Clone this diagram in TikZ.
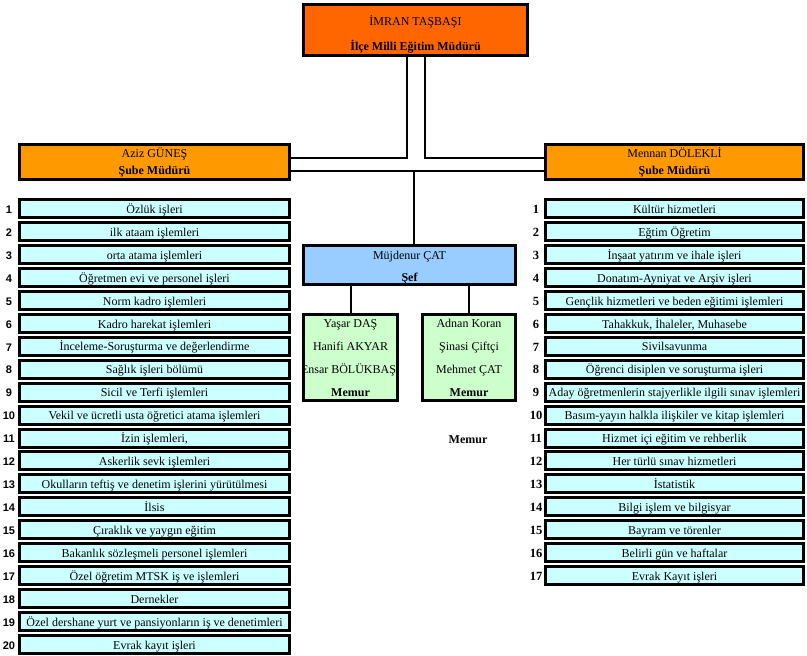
\documentclass[tikz,border=0pt]{standalone}
\usepackage{fontspec}
\setmainfont{Liberation Serif}
\newfontfamily\numsans{Liberation Sans}
\definecolor{topc}{HTML}{FF6600}
\definecolor{subec}{HTML}{FF9900}
\definecolor{listc}{HTML}{CCFFFF}
\definecolor{sefc}{HTML}{99CCFF}
\definecolor{memc}{HTML}{CCFFCC}
\begin{document}
\begin{tikzpicture}[x=1pt,y=-1pt,font=\fontsize{12}{14}\selectfont,
  box/.style={draw=black,line width=3pt,inner sep=0pt,align=center},
  lbox/.style={box,fill=listc,minimum width=270pt,minimum height=18pt,text height=9.5pt,text depth=0pt},
  rbox/.style={box,fill=listc,minimum width=258pt,minimum height=18pt,text height=9.5pt,text depth=0pt},
  lnum/.style={inner sep=0pt,anchor=base,font=\numsans\bfseries\fontsize{11}{13}\selectfont},
  rnum/.style={inner sep=0pt,anchor=base,font=\bfseries\fontsize{12.5}{14}\selectfont},
  txt/.style={inner sep=0pt,anchor=base},
  btxt/.style={inner sep=0pt,anchor=base,font=\bfseries\fontsize{12}{14}\selectfont},
  conn/.style={line width=2pt,black}]
\useasboundingbox (0,0) rectangle (807,656);
% top
\node[box,fill=topc,minimum width=224pt,minimum height=51pt] (top) at (415.5,29.5) {};
\node[txt] (topn) at (415.5,25) {İMRAN TAŞBAŞI};
\node[btxt] (topt) at (415.5,50.5) {İlçe Milli Eğitim Müdürü};
% sube
\node[box,fill=subec,minimum width=270pt,minimum height=35pt] (aziz) at (154.5,162) {};
\node[txt] (azizn) at (154.5,157.5) {Aziz GÜNEŞ};
\node[btxt] (azizt) at (154.5,174.5) {Şube Müdürü};
\node[box,fill=subec,minimum width=258pt,minimum height=35pt] (mennan) at (674.5,162) {};
\node[txt] (mennann) at (674.5,157.5) {Mennan DÖLEKLİ};
\node[btxt] (mennant) at (674.5,174.5) {Şube Müdürü};
% sef
\node[box,fill=sefc,minimum width=212pt,minimum height=39pt] (sef) at (409.5,265) {};
\node[txt] (sefn) at (409.5,259) {Müjdenur ÇAT};
\node[btxt] (seft) at (409.5,281.5) {Şef};
% memur boxes
\node[box,fill=memc,minimum width=94pt,minimum height=86pt] (memL) at (350.5,357.5) {};
\node[box,fill=memc,minimum width=93pt,minimum height=86pt] (memR) at (469,357.5) {};
\begin{scope}
\clip (304.5,315.5) rectangle (396.5,399.5);
\node[txt] (mL1) at (350.5,327.5) {Yaşar DAŞ};
\node[txt] (mL2) at (350.5,350.5) {Hanifi AKYAR};
\node[txt] (mL3) at (350.5,373.5) {Ensar BÖLÜKBAŞI};
\node[btxt] (mL4) at (350.5,396.5) {Memur};
\end{scope}
\node[txt] (mR1) at (469,327.5) {Adnan Koran};
\node[txt] (mR2) at (469,350.5) {Şinasi Çiftçi};
\node[txt] (mR3) at (469,373.5) {Mehmet ÇAT};
\node[btxt] (mR4) at (469,396.5) {Memur};
\node[btxt] (memx) at (468,443.5) {Memur};
% left list
\foreach \t [count=\i] in {Özlük işleri,ilk ataam işlemleri,orta atama işlemleri,Öğretmen evi ve personel işleri,Norm kadro işlemleri,Kadro harekat işlemleri,İnceleme-Soruşturma ve değerlendirme,Sağlık işleri bölümü,Sicil ve Terfi işlemleri,Vekil ve ücretli usta öğretici atama işlemleri,{İzin işlemleri,},Askerlik sevk işlemleri,Okulların teftiş ve denetim işlerini yürütülmesi,İlsis,Çıraklık ve yaygın eğitim,Bakanlık sözleşmeli personel işlemleri,Özel öğretim MTSK iş ve işlemleri,Dernekler,Özel dershane yurt ve pansiyonların iş ve denetimleri,Evrak kayıt işleri}{
  \node[lbox] (L\i) at (154.5,{208.5+(\i-1)*22.95}) {\t};
  \node[lnum] (LN\i) at (9,{213.3+(\i-1)*22.95}) {\i};
}
% right list
\foreach \t [count=\i] in {Kültür hizmetleri,Eğtim Öğretim,İnşaat yatırım ve ihale işleri,Donatım-Ayniyat ve Arşiv işleri,Gençlik hizmetleri ve beden eğitimi işlemleri,{Tahakkuk, İhaleler, Muhasebe},Sivilsavunma,Öğrenci disiplen ve soruşturma işleri,Aday öğretmenlerin stajyerlikle ilgili sınav işlemleri,Basım-yayın halkla ilişkiler ve kitap işlemleri,Hizmet içi eğitim ve rehberlik,Her türlü sınav hizmetleri,İstatistik,Bilgi işlem ve bilgisyar,Bayram ve törenler,Belirli gün ve haftalar,Evrak Kayıt işleri}{
  \node[rbox] (R\i) at (674.5,{208.5+(\i-1)*22.95}) {\t};
  \node[rnum] (RN\i) at (536,{213.3+(\i-1)*22.95}) {\i};
}
% connectors
\coordinate (h1) at (0,158);
\coordinate (h2) at (0,171);
\coordinate (tl) at ([xshift=-9pt]top.south);
\coordinate (tr) at ([xshift=9pt]top.south);
\coordinate (sefin) at ([xshift=4.5pt]sef.north);
\draw[conn] (tl) |- (aziz.east |- h1);
\draw[conn] (tr) |- (mennan.west |- h1);
\draw[conn] (aziz.east |- h2) -- (mennan.west |- h2);
\draw[conn] (sefin) -- (sefin |- h2);
\draw[conn] (memL.north) -- (memL.north |- sef.south);
\draw[conn] (memR.north) -- (memR.north |- sef.south);
\end{tikzpicture}
\end{document}
